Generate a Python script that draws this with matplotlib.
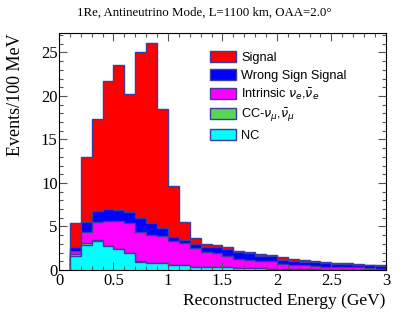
import numpy as np
import matplotlib
matplotlib.use("Agg")
import matplotlib.pyplot as plt
from matplotlib.patches import Patch
from matplotlib.ticker import MultipleLocator

# ============================================================
# Data (events per 100 MeV bin, bins 0.1 .. 3.0 GeV)
# ============================================================
bin_edges = [round(0.1 + 0.1 * i, 1) for i in range(30)]

nc = [1.65, 2.92, 3.38, 2.76, 2.38, 1.95, 0.97, 0.75, 0.82, 0.55,
      0.61, 0.38, 0.31, 0.34, 0.37, 0.19, 0.26, 0.19, 0.15, 0.05,
      0.06, 0.05, 0.05, 0.04, 0.04, 0.03, 0.04, 0.03, 0.03]
cc_numu = [0.20, 0.22, 0.08, 0.05, 0.06, 0.03, 0.02, 0.02, 0.02, 0.02,
           0.02, 0.01, 0.01, 0.01, 0.01, 0.01, 0.01, 0.01, 0.01, 0.01,
           0.01, 0.01, 0.01, 0.01, 0.01, 0.01, 0.01, 0.01, 0.01]
intrinsic = [0.33, 1.26, 2.06, 2.79, 3.19, 3.38, 3.38, 3.29, 3.09, 2.74,
             2.44, 2.10, 1.79, 1.60, 1.26, 1.06, 0.92, 0.83, 0.87, 0.63,
             0.47, 0.48, 0.40, 0.33, 0.26, 0.27, 0.26, 0.19, 0.11]
wrong_sign = [0.47, 1.16, 1.30, 1.45, 1.27, 1.34, 1.61, 1.38, 0.86, 0.44,
              0.38, 0.50, 0.57, 0.69, 0.77, 0.77, 0.72, 0.61, 0.54, 0.46,
              0.46, 0.42, 0.42, 0.39, 0.42, 0.38, 0.30, 0.31, 0.31]
signal = [2.75, 7.39, 10.58, 14.65, 16.70, 13.50, 19.02, 20.61, 13.71, 5.90,
          2.05, 0.65, 0.27, 0.20, 0.20, 0.21, 0.21, 0.24, 0.21, 0.31,
          0.26, 0.24, 0.19, 0.17, 0.09, 0.08, 0.10, 0.07, 0.06]

# stacking order, bottom to top
layers = [
    ("NC", nc, "#00ffff"),
    (r"CC-$\nu_{\mu}$,$\bar{\nu}_{\mu}$", cc_numu, "#59d454"),
    (r"Intrinsic $\nu_{e}$,$\bar{\nu}_{e}$", intrinsic, "#ff00ff"),
    ("Wrong Sign Signal", wrong_sign, "#0000ff"),
    ("Signal", signal, "#ff0000"),
]

LINE_COLOR = "#3c3ca0"
SERIF = ["Liberation Serif", "DejaVu Serif"]
SANS = ["Liberation Sans", "DejaVu Sans"]

# ============================================================
# Plot
# ============================================================
fig = plt.figure(figsize=(4.07, 3.22), dpi=100)
ax = fig.add_axes([0.145, 0.1615, 0.803, 0.735])

cum = np.cumsum(np.array([l[1] for l in layers]), axis=0)
# draw from the top of the stack down so lower layers sit in front
for i in range(len(layers) - 1, -1, -1):
    ax.stairs(cum[i], bin_edges, baseline=0, fill=True,
              facecolor=layers[i][2], edgecolor=LINE_COLOR, linewidth=1.0)

ax.set_xlim(0, 3)
ax.set_ylim(0, 27.2)

ax.xaxis.set_major_locator(MultipleLocator(0.5))
ax.xaxis.set_minor_locator(MultipleLocator(0.1))
ax.yaxis.set_major_locator(MultipleLocator(5))
ax.yaxis.set_minor_locator(MultipleLocator(1))
ax.set_xticks([0, 0.5, 1, 1.5, 2, 2.5, 3])
ax.set_xticklabels(["0", "0.5", "1", "1.5", "2", "2.5", "3"])

ax.tick_params(which="both", direction="in", top=True, right=True,
               colors="#555555", labelcolor="black", labelsize=12, width=0.8)
ax.tick_params(which="major", length=6)
ax.tick_params(which="minor", length=3)
ax.tick_params(axis="x", pad=2)
ax.tick_params(axis="y", pad=1)
for lab in ax.get_xticklabels() + ax.get_yticklabels():
    lab.set_family(SERIF)

for sp in ax.spines.values():
    sp.set_linewidth(0.8)

ax.set_xlabel("Reconstructed Energy (GeV)", family=SERIF, fontsize=12.5,
              loc="right", labelpad=3)
ax.set_ylabel("Events/100 MeV", family=SERIF, fontsize=13,
              loc="top", labelpad=12)

fig.text(0.503, 0.962, "1Re, Antineutrino Mode, L=1100 km, OAA=2.0\u00b0",
         family=SERIF, fontsize=9.3, ha="center", va="center")

handles = [Patch(facecolor=c, edgecolor=LINE_COLOR, linewidth=1.0)
           for _, _, c in layers[::-1]]
labels = [n for n, _, _ in layers[::-1]]
ax.legend(handles, labels, loc="upper left", bbox_to_anchor=(0.445, 0.948),
          frameon=False, prop={"family": SANS, "size": 9.2},
          handlelength=2.03, handleheight=1.02, labelspacing=0.36,
          handletextpad=0.45, borderaxespad=0)

fig.savefig("out.png", dpi=100)
